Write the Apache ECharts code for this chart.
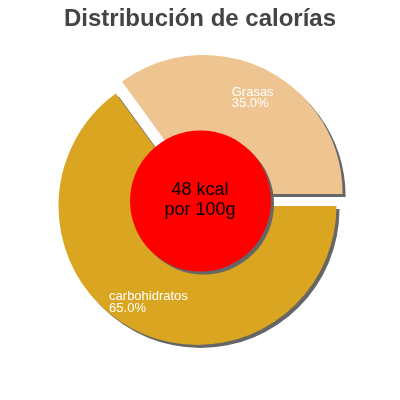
<!DOCTYPE html>
<html>
<head>
<meta charset="utf-8">
<script src="https://cdn.jsdelivr.net/npm/echarts@6/dist/echarts.min.js"></script>
<style>
html,body{margin:0;padding:0;background:#fff;}
#c{width:400px;height:400px;}
</style>
</head>
<body>
<div id="c"></div>
<script>
var titleText = 'Distribución de calorías';
var categories = ['Grasas', 'carbohidratos'];
var values = [35, 65];
var centerLines = ['48 kcal', 'por 100g'];

var colors = ['#EEC591', '#DAA520'];
var FONT = '"Liberation Sans", Arial, sans-serif';

var chart = echarts.init(document.getElementById('c'), null, {renderer: 'canvas'});

function buildData(transparent) {
  return categories.map(function (n, i) {
    return {
      name: n,
      value: values[i],
      selected: i === 0,
      itemStyle: {color: transparent ? 'rgba(0,0,0,0)' : colors[i]}
    };
  });
}

var option = {
  animation: false,
  title: {
    text: titleText,
    left: 'center',
    top: 2,
    textStyle: {fontFamily: FONT, fontSize: 24, fontWeight: 'bold', color: '#444444'}
  },
  series: [
    {
      type: 'pie',
      center: [197.5, 206],
      radius: [0, 139],
      startAngle: 126,
      clockwise: true,
      selectedMode: 'single',
      selectedOffset: 13.5,
      silent: true,
      data: buildData(false),
      label: {show: false},
      labelLine: {show: false},
      itemStyle: {borderWidth: 0, shadowColor: '#666666', shadowOffsetX: 3, shadowOffsetY: 3, shadowBlur: 0},
      emphasis: {disabled: true},
      z: 2
    },
    {
      type: 'pie',
      center: [197.5, 206],
      radius: [71, 139],
      startAngle: 126,
      clockwise: true,
      selectedMode: 'single',
      selectedOffset: 13.5,
      silent: true,
      data: buildData(true),
      itemStyle: {borderWidth: 0},
      label: {
        show: true,
        position: 'inside',
        formatter: function (p) {
          return '{n|' + p.name + '}\n{n|' + p.percent.toFixed(1) + '%}';
        },
        rich: {
          n: {color: '#ffffff', fontSize: 13, lineHeight: 11.5, fontFamily: FONT, align: 'left'}
        }
      },
      labelLine: {show: false},
      emphasis: {disabled: true},
      z: 3
    }
  ],
  graphic: [
    {
      type: 'circle',
      z: 100,
      silent: true,
      shape: {cx: 200.5, cy: 201, r: 70.5},
      style: {fill: '#ff0000', shadowColor: '#666666', shadowOffsetX: 3, shadowOffsetY: 3, shadowBlur: 0}
    },
    {
      type: 'text',
      z: 101,
      silent: true,
      x: 200,
      y: 200,
      style: {
        text: centerLines.join('\n'),
        fill: '#000000',
        fontSize: 18,
        fontFamily: FONT,
        lineHeight: 20,
        align: 'center',
        verticalAlign: 'middle'
      }
    }
  ]
};
chart.setOption(option);
</script>
</body>
</html>
